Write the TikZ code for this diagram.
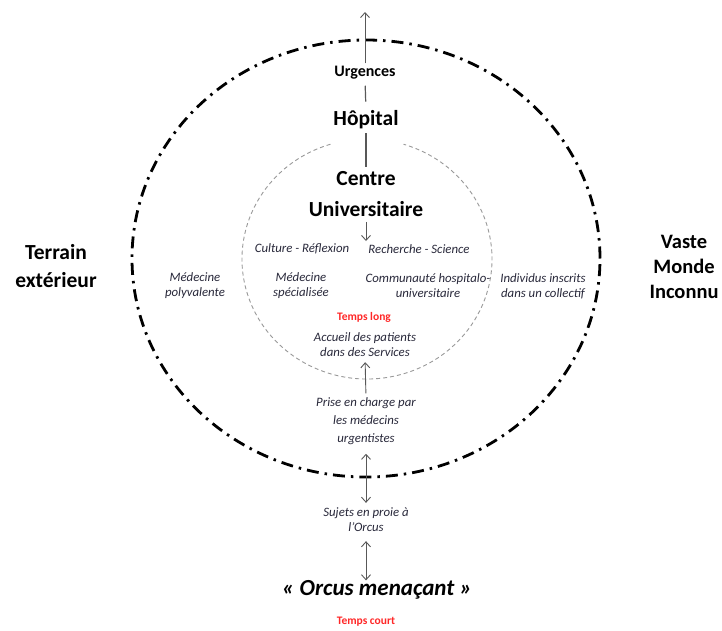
\documentclass[tikz,border=0pt]{standalone}
\usepackage{fontspec}
\setmainfont{Carlito}
\usetikzlibrary{arrows.meta}
\definecolor{labc}{RGB}{40,40,58}
\definecolor{tred}{RGB}{255,40,40}
\definecolor{lgray}{RGB}{88,88,88}
\begin{document}
\begin{tikzpicture}[x=1pt,y=-1pt,
  title/.style={font=\fontsize{21.5}{28}\selectfont\bfseries, text=black, align=center, inner sep=0pt},
  lab/.style={font=\fontsize{12.8}{15}\selectfont\itshape, text=labc, align=center, inner sep=0pt},
  redlab/.style={font=\fontsize{11.5}{13}\selectfont\bfseries, text=tred, inner sep=0pt},
  arr/.style={draw=lgray, line width=0.9pt, -{Straight Barb[length=5pt,width=9pt]}},
  darr/.style={draw=lgray, line width=0.9pt, {Straight Barb[length=5pt,width=9pt]}-{Straight Barb[length=5pt,width=9pt]}},
  link/.style={draw=lgray, line width=1.2pt},
  outer/.style={draw=black, line width=2.8pt, dash pattern=on 12pt off 6pt on 2.5pt off 6pt},
  innerc/.style={draw=gray!80, line width=0.9pt, dash pattern=on 4pt off 3pt}]
\useasboundingbox (0,0) rectangle (722,630);
\fill[white] (0,0) rectangle (722,630);
% rings
\draw[outer] (366,258.5) ellipse [x radius=234pt, y radius=218.5pt];
\draw[innerc] (367,259) ++(107:125pt and 120pt) arc[start angle=107, end angle=433, x radius=125pt, y radius=120pt];
% titles
\node[title, font=\fontsize{16}{18}\selectfont\bfseries] (urg) at (365,73) {Urgences};
\node[title] (hop) at (366,120) {Hôpital};
\node[title, font=\fontsize{21.5}{31}\selectfont\bfseries] (cu) at (366,194) {Centre\\Universitaire};
\node[title] (terr) at (56,266) {Terrain\\extérieur};
\node[title, font=\fontsize{20.5}{25}\selectfont\bfseries] (vaste) at (684,267) {Vaste\\Monde\\Inconnu};
% labels
\node[lab] (cult) at (302,249) {Culture - Réflexion};
\node[lab] (rech) at (419,249) {Recherche - Science};
\node[lab] (mpoly) at (195,286) {Médecine\\polyvalente};
\node[lab] (mspec) at (301,286) {Médecine\\spécialisée};
\node[lab] (comm) at (428,286) {Communauté hospitalo-\\universitaire};
\node[lab] (indiv) at (543,286) {Individus inscrits\\dans un collectif};
\node[redlab] (tlong) at (364,317) {Temps long};
\node[lab] (acc) at (365,345) {Accueil des patients\\dans des Services};
\node[lab, font=\fontsize{12.8}{18}\selectfont\itshape] (prise) at (366,421) {Prise en charge par\\les médecins\\urgentistes};
\node[lab] (suj) at (366,520) {Sujets en proie à\\l’Orcus};
\node[title, font=\fontsize{23}{26}\selectfont\bfseries\itshape] (orc) at (377,590) {« Orcus menaçant »};
\node[redlab] (tcourt) at (366,622) {Temps court};
% connectors
\coordinate (topend) at (365,12);
\coordinate (cudown) at (366,241);
\draw[arr, shorten <=3pt] (urg.north) -- (topend);
\draw[link, shorten <=6pt, shorten >=9pt] (urg.south) -- (hop.north);
\draw[link, shorten <=4pt, shorten >=4pt] (hop.south) -- (cu.north);
\draw[arr, shorten <=5pt] (cu.south) -- (cudown);
\draw[arr, shorten <=4pt, shorten >=5pt] (prise.north) -- (acc.south);
\draw[darr, shorten <=9pt, shorten >=5pt] (prise.south) -- (suj.north);
\draw[darr, shorten <=9pt, shorten >=0pt] (suj.south) -- (suj.south |- orc.north);
\end{tikzpicture}
\end{document}
